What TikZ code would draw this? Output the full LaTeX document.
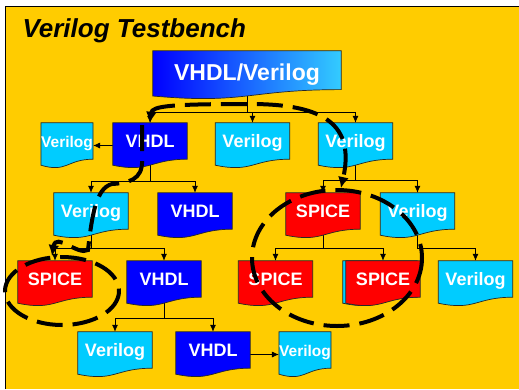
\documentclass[tikz,border=0pt]{standalone}
\usepackage{fontspec}
\setmainfont{Liberation Sans}
\usetikzlibrary{calc,arrows.meta}

\definecolor{vyellow}{HTML}{FFCC00}
\definecolor{vblue}{HTML}{0000FF}
\definecolor{vsky}{HTML}{33CCFF}
\definecolor{vcyan}{HTML}{00CCFF}
\definecolor{vred}{HTML}{FF0000}

\pgfdeclarelayer{back}
\pgfsetlayers{back,main}

% outline of a document box: flat top, wavy bottom
\newcommand{\docoutline}[1]{(#1.north west) -- (#1.north east)
  -- ($(#1.north east)!0.802!(#1.south east)$)
  .. controls ($(#1.north)!0.802!(#1.south)$) and ($(#1.north)!1.107!(#1.south)$)
  .. ($(#1.north west)!0.934!(#1.south west)$) -- cycle}

\tikzset{
  doc/.style={minimum width=74pt, minimum height=45pt, inner sep=0pt, text=white,
    font=\bfseries\fontsize{18}{18}\selectfont, text height=13pt, text depth=9pt},
  docsmall/.style={doc, minimum width=46pt, font=\bfseries\fontsize{15.5}{15.5}\selectfont},
  docline/.style={draw=black!85, line width=0.7pt},
  tree/.style={line width=0.8pt, -{Latex[length=7pt,width=6pt]}},
  flow/.style={line width=4pt, dash pattern=on 26pt off 10pt},
  flowend/.style={-{Latex[length=11pt,width=11pt]}},
  flowboth/.style={{Latex[length=11pt,width=11pt]}-{Latex[length=11pt,width=11pt]}}
}

\begin{document}
\begin{tikzpicture}[x=1pt,y=-1pt]
				\useasboundingbox (0,0) rectangle (519,389);
				\begin{pgfonlayer}{back}
				\fill [vyellow] (5,6) rectangle (519,389);
				\draw [line width=0.8pt] (5,389) -- (5,6) -- (519,6);
				\end{pgfonlayer}

				\node [font=\bfseries\itshape\fontsize{26}{26}\selectfont, anchor=base west] (title) at (19,37) {Verilog Testbench};

				% nodes, row by row
				\node [doc, minimum width=188pt, minimum height=48pt, font=\bfseries\fontsize{23}{23}\selectfont, text height=17pt, text depth=7pt] (src) at (247,75) {VHDL/Verilog};
				\node [docsmall] (verS) at (67,145.5) {Verilog};
				\node [doc] (vhdlA) at (150,145.5) {VHDL};
				\node [doc] (verA) at (252.5,145.5) {Verilog};
				\node [doc] (verB) at (355.5,145.5) {Verilog};
				\node [doc] (verC) at (91,215.5) {Verilog};
				\node [doc] (vhdlB) at (195,215.5) {VHDL};
				\node [doc] (spiceA) at (323,215.5) {SPICE};
				\node [doc] (verD) at (417.5,215.5) {Verilog};
				\node [doc] (spiceB) at (55,283.5) {SPICE};
				\node [doc] (vhdlC) at (164,283.5) {VHDL};
				\node [doc] (spiceC) at (275.5,283.5) {SPICE};
				\node [doc] (verE) at (380,283.5) {};
				\node [doc] (spiceD) at (383,283.5) {SPICE};
				\node [doc] (verF) at (475.5,283.5) {Verilog};
				\node [doc] (verG) at (115,354.5) {Verilog};
				\node [doc] (vhdlD) at (213,354.5) {VHDL};
				\node [docsmall] (verS2) at (305,354.5) {Verilog};

				\begin{pgfonlayer}{back}
				\coordinate (barTop) at (247,112);
				\coordinate (barA) at (150,181);
				\coordinate (barB) at (355.5,180);
				\coordinate (barC) at (91,248);
				\coordinate (barD) at (323,248);
				\coordinate (barE) at (417.5,248);
				\coordinate (barF) at (164,318);
				\draw [tree] (src.center) -- (barTop) -| (vhdlA.north);
				\draw [tree] (barTop) -| (verA.north);
				\draw [tree] (barTop) -| (verB.north);
				\draw [tree] (vhdlA.center) -- (barA) -| (verC.north);
				\draw [tree] (barA) -| (vhdlB.north);
				\draw [tree] (verB.center) -- (barB) -| (spiceA.north);
				\draw [tree] (barB) -| (verD.north);
				\draw [tree] (verC.center) -- (barC) -| (spiceB.north);
				\draw [tree] (barC) -| (vhdlC.north);
				\draw [tree] (spiceA.center) -- (barD) -| (spiceC.north);
				\draw [tree] (barD) -| (spiceD.north);
				\draw [tree] (verD.center) -- (barE) -| (verF.north);
				\draw [tree] (vhdlC.center) -- (barF) -| (verG.north);
				\draw [tree] (barF) -| (vhdlD.north);
				\draw [tree] (vhdlA.west) -- (verS.east);
				\draw [tree] (vhdlD.east) -- (verS2.west);

				\draw [docline, left color=vblue, right color=vsky] \docoutline{src};
				\foreach \n/\c in {verS/vcyan, vhdlA/vblue, verA/vcyan, verB/vcyan,
					verC/vcyan, vhdlB/vblue, spiceA/vred, verD/vcyan,
					spiceB/vred, vhdlC/vblue, spiceC/vred, verE/vcyan, spiceD/vred, verF/vcyan,
					verG/vcyan, vhdlD/vblue, verS2/vcyan}
					\draw [docline, fill=\c] \docoutline{\n};
				\end{pgfonlayer}

				% dashed flows over the tree
				\coordinate (flowB) at (341,188);
				\coordinate (flowC) at (142,125);
				\coordinate (flowD) at (52,256);
				\draw [flow, flowboth] (vhdlA.north) .. controls (152,106) and (170,104) .. (250,104) .. controls (325,104) and (355,125) .. (flowB);
				\draw [flow, flowend] (flowC) -- (142,160) .. controls (143,180) and (128,183) .. (112,184) .. controls (96,188) and (92,215) .. (88,250) .. controls (78,256) and (56,232) .. (flowD);
				\draw [flow] (62,291) ellipse [x radius=57, y radius=34];
				\draw [flow] (337,258) ellipse [x radius=85, y radius=68];
\end{tikzpicture}
\end{document}
